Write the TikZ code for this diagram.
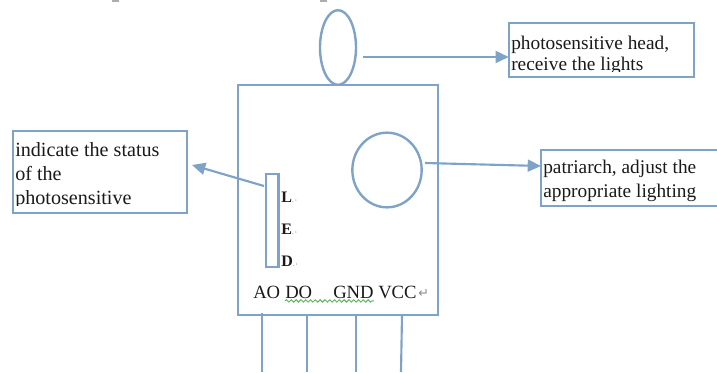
\documentclass[tikz,border=0pt]{standalone}
\usepackage{fontspec}
\setmainfont{Liberation Serif}
\newfontfamily\symfont{DejaVu Sans}
\usetikzlibrary{arrows.meta,shapes.geometric,decorations.pathmorphing}
\definecolor{ln}{HTML}{7FA3C7}
\definecolor{sq}{HTML}{5FB45F}
\definecolor{mk}{HTML}{8A8A8A}
\definecolor{tx}{HTML}{1A1A1A}
\tikzset{
  px/.style={x=0.75pt,y=-0.75pt},
  boxshape/.style={draw=ln,line width=1.8pt,fill=white,rectangle,inner sep=0pt,outer sep=0pt},
  ovalshape/.style={draw=ln,line width=1.8pt,ellipse,inner sep=0pt,outer sep=0pt},
  conn/.style={draw=ln,line width=1.6pt,-{Triangle[length=10pt,width=9pt]}},
  wire/.style={draw=ln,line width=1.6pt},
  lbl/.style={inner sep=0pt,anchor=base west,text=tx,font=\fontsize{15.1pt}{17pt}\selectfont},
  lblr/.style={inner sep=0pt,anchor=base west,text=tx,font=\fontsize{14.5pt}{17pt}\selectfont},
  pin/.style={inner sep=0pt,anchor=base west,text=tx,font=\fontsize{14pt}{17pt}\selectfont},
  ledl/.style={inner sep=0pt,anchor=base west,text=tx,font=\fontsize{12pt}{13pt}\selectfont\bfseries}
}
\newcommand{\parmark}{\textcolor{mk}{\fontsize{6pt}{7pt}\selectfont\mdseries.\,\raisebox{0.5pt}{\fontsize{3.5pt}{4pt}\selectfont ı}}}
\begin{document}
\begin{tikzpicture}[px]
\useasboundingbox (0,0) rectangle (717,372);
\begin{scope}
\clip (0,0) rectangle (717,372);
% main body and its parts
\node[boxshape,minimum width=150pt,minimum height=172.5pt] (body) at (338,200) {};
\node[ovalshape,minimum width=27pt,minimum height=56pt] (head) at (338,47.5) {};
\node[ovalshape,minimum width=52pt,minimum height=56pt] (pot) at (387,170) {};
\node[boxshape,minimum width=9.5pt,minimum height=70pt] (led) at (272.3,220.5) {};
% text boxes
\node[boxshape,minimum width=130.5pt,minimum height=61.5pt] (left) at (100,172) {};
\node[boxshape,minimum width=139pt,minimum height=40.5pt] (ptop) at (601.5,50) {};
\node[boxshape,minimum width=141pt,minimum height=42pt] (ppot) at (635,178) {};
% connectors
\coordinate (s1) at (363,57);
\coordinate (s2) at (425,163);
\coordinate (s3) at (264,186);
\coordinate (e3) at (192,165);
\draw[conn] (s1) -- ([yshift=-5.25pt]ptop.west);
\draw[conn] (s2) -- ([yshift=9pt]ppot.west);
\draw[conn] (s3) -- (e3);
% wires
\coordinate (w1) at (262,372);
\coordinate (w2) at (307,372);
\coordinate (w3) at (356,372);
\coordinate (w4) at (401,372);
\draw[wire] (262,313) -- (w1);
\draw[wire] (w2) -- (307,315);
\draw[wire] (w3) -- (356,315);
\draw[wire] (w4) -- (402,315);
% clipped texts
\begin{scope}
\clip (15,133) rectangle (185,205);
\node[lbl] (t1) at (15,156) {indicate the status};
\node[lbl] (t2) at (15,180) {of the};
\node[lbl] (t3) at (15,204) {photosensitive};
\end{scope}
\begin{scope}
\clip (511,25) rectangle (692,71);
\node[lblr] (t4) at (511,49) {photosensitive head,};
\node[lblr] (t5) at (511,70) {receive the lights};
\end{scope}
\node[lblr] (t6) at (543,173) {patriarch, adjust the};
\node[lblr] (t7) at (543,197) {appropriate lighting};
% LED labels
\node[ledl] (l) at (281,202) {L\parmark};
\node[ledl] (e) at (281,234) {E\parmark};
\node[ledl] (d) at (281,266) {D\parmark};
% pin labels
\node[pin] (ao) at (253,298) {AO};
\node[pin] (do) at (285,298) {DO};
\node[pin] (gnd) at (333,298) {GND};
\node[pin] (vcc) at (378,298) {VCC};
\node[inner sep=0pt,anchor=base west,text=mk,font=\symfont\fontsize{9.5pt}{10pt}\selectfont] (ret) at (418,297) {↵};
\coordinate (sq1) at (do.base west);
\coordinate (sq2) at (gnd.base east);
\draw[sq,line width=0.7pt,decorate,decoration={snake,amplitude=0.9pt,segment length=3.6pt}] ([yshift=-2.2pt]sq1) -- ([yshift=-2.2pt]sq2);
% specks on the top edge
\fill[mk!70] (112,0) rectangle (119,1.5);
\fill[mk!70] (320,0) rectangle (327,1.5);
\end{scope}
\end{tikzpicture}
\end{document}
